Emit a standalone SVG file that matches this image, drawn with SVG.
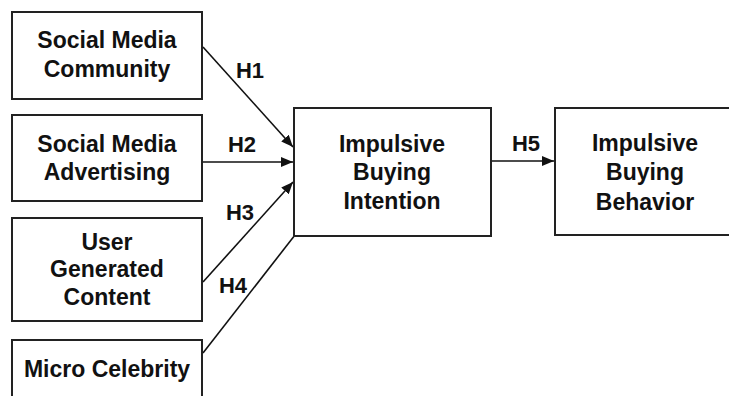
<svg xmlns="http://www.w3.org/2000/svg" width="729" height="396" viewBox="0 0 729 396">
  <style>
    .box { fill: #ffffff; stroke: #222; stroke-width: 2; }
    .t { font-family: "Liberation Sans", Arial, sans-serif; font-weight: bold; font-size: 23px; fill: #111; text-anchor: middle; }
    .lbl { font-family: "Liberation Sans", Arial, sans-serif; font-weight: bold; font-size: 22px; fill: #111; text-anchor: middle; }
    .conn { stroke: #111; stroke-width: 1.6; fill: none; }
  </style>
  <defs>
    <marker id="arr" viewBox="0 0 12 10" refX="12" refY="5" markerWidth="12" markerHeight="10" markerUnits="userSpaceOnUse" orient="auto">
      <path d="M0,0 L12,5 L0,10 z" fill="#111"/>
    </marker>
  </defs>
  <rect width="729" height="396" fill="#ffffff"/>

  <g id="connectors">
    <line class="conn" x1="203" y1="47" x2="293" y2="147" marker-end="url(#arr)"/>
    <line class="conn" x1="203" y1="162" x2="293" y2="162" marker-end="url(#arr)"/>
    <line class="conn" x1="203" y1="282" x2="293" y2="182" marker-end="url(#arr)"/>
    <line class="conn" x1="203" y1="353" x2="295" y2="235"/>
    <line class="conn" x1="492" y1="161" x2="554" y2="161" marker-end="url(#arr)"/>
    <text class="lbl" x="250" y="78">H1</text>
    <text class="lbl" x="242" y="152">H2</text>
    <text class="lbl" x="240" y="220">H3</text>
    <text class="lbl" x="233" y="293">H4</text>
    <text class="lbl" x="526" y="151">H5</text>
  </g>

  <g id="smc">
    <rect class="box" x="12" y="12" width="190" height="87"/>
    <text class="t" x="107" y="48">Social Media</text>
    <text class="t" x="107" y="77">Community</text>
  </g>
  <g id="sma">
    <rect class="box" x="12" y="115" width="190" height="86"/>
    <text class="t" x="107" y="152">Social Media</text>
    <text class="t" x="107" y="180">Advertising</text>
  </g>
  <g id="ugc">
    <rect class="box" x="12" y="218" width="190" height="103"/>
    <text class="t" x="107" y="250">User</text>
    <text class="t" x="107" y="277">Generated</text>
    <text class="t" x="107" y="305">Content</text>
  </g>
  <g id="mc">
    <rect class="box" x="12" y="340" width="190" height="70"/>
    <text class="t" x="107" y="377">Micro Celebrity</text>
  </g>
  <g id="ibi">
    <rect class="box" x="294" y="108" width="197" height="128"/>
    <text class="t" x="392" y="152">Impulsive</text>
    <text class="t" x="392" y="180">Buying</text>
    <text class="t" x="392" y="209">Intention</text>
  </g>
  <g id="ibb">
    <rect class="box" x="555" y="108" width="185" height="127"/>
    <text class="t" x="645" y="151">Impulsive</text>
    <text class="t" x="645" y="180">Buying</text>
    <text class="t" x="645" y="210">Behavior</text>
  </g>
</svg>
